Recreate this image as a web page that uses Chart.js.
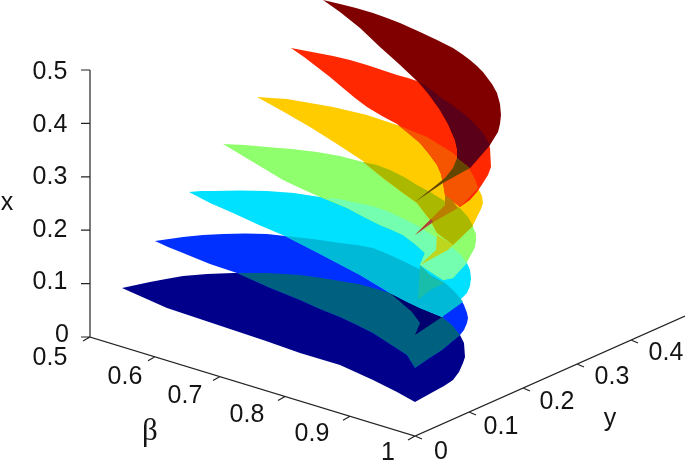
<!DOCTYPE html>
<html>
<head>
<meta charset="utf-8">
<style>
  html, body { margin: 0; padding: 0; background: #fff; }
</style>
<script src="https://cdn.jsdelivr.net/npm/chart.js@4"></script>
</head>
<body>
<canvas id="sheetChart" width="685" height="468"></canvas>
<script>
/*TICKS*/
const xTicks = [0, 0.1, 0.2, 0.3, 0.4, 0.5];
const betaTicks = [0.5, 0.6, 0.7, 0.8, 0.9, 1];
const yTicks = [0, 0.1, 0.2, 0.3, 0.4];

/*SHEET OUTLINES in the flat plane of the 3D view*/
const navySheet = [[122,288],[136,285],[150,282],[166,279],[183,276],[207,274],[233,273],[266,273],[300,275],[322,278],[340,281],[358,284],[373,288],[390,293],[442,317],[452,325],[460,335],[464,343],[465,350],[465,357],[463,363],[459,372],[453,380],[444,386],[433,392],[424,397],[415,402],[406,397],[397,392],[385,386],[373,380],[340,365],[300,353],[266,341],[233,330],[200,319],[167,308]];
const blueSheet = [[155,241],[169,239],[183,237],[203,235],[223,234],[245,233.5],[267,234],[285,236],[313,239],[340,243],[357,245],[373,248],[390,255],[407,263],[427,273],[445,283],[454,291],[460,298],[464,305],[467,313],[468,318],[467,323],[464,330],[460,335],[442,350],[428,359],[415,368],[407,355],[390,344],[373,333],[357,325],[340,317],[320,309],[300,300],[268,287],[237,273],[210,264],[183,253],[168,247]];
const cyanSheet = [[189,192],[201,191],[213,191],[240,190.5],[267,191],[294,193],[320,197],[339,199],[357,203],[372,206],[387,211],[404,219],[420,227],[437,238],[453,248],[461,255],[467,263],[470,270],[471,278],[470,286],[467,293],[460,300],[442,317],[420,308],[390,293],[375,284],[360,275],[322,255],[285,236],[259,225],[233,213],[210,203]];
const greenSheet = [[223,144],[245,145],[267,147],[292,149],[317,152],[340,156],[363,162],[377,165],[390,170],[404,177],[417,185],[430,192],[443,200],[452,204],[460,209],[468,217],[473,227],[476,234],[476,240],[475,247],[472,253],[467,262],[453,278],[443,280],[420,265],[425,253],[415,244],[403,235],[392,230],[380,225],[364,217],[347,208],[320,197],[302,189],[283,180],[253,162]];
const yellowSheet = [[257,97],[272,98],[287,99],[310,103],[333,107],[350,111],[367,115],[382,120],[397,125],[412,131],[427,137],[440,145],[453,153],[462,161],[470,170],[475,179],[478,188],[482,196],[483,203],[481,209],[478,215],[473,225],[453,245],[437,233],[430,220],[417,203],[403,193],[383,178],[363,161],[337,144],[310,127],[284,112]];
const redSheet = [[291,48],[312,52],[333,56],[350,60],[367,65],[382,70],[397,75],[408,78],[420,82],[430,89],[440,97],[452,105],[463,113],[474,123],[483,133],[487,140],[490,148],[491,157],[491,167],[488,175],[483,183],[477,192],[470,200],[460,207],[445,195],[443,183],[441,174],[437,165],[429,154],[420,143],[408,133],[397,124],[382,116],[367,107],[355,98],[343,88],[330,77],[317,67],[304,57]];
const maroonSheet = [[323,0],[340,4],[356,8],[373,13],[387,18],[400,23],[420,32],[437,40],[453,48],[462,54],[470,60],[477,66],[483,72],[492,84],[497,93],[500,104],[501,115],[500,124],[498,132],[490,145],[470,168],[457,158],[457,149],[455,140],[448,124],[440,110],[430,96],[418,82],[399,64],[380,47],[360,28],[340,12]];

/*OVERLAPS BETWEEN NEIGHBOUR SHEETS*/
const navyBlueOverlap = [[237,273],[268,273],[300,275],[322,278],[340,281],[358,284],[373,288],[390,293],[407,302],[420,308],[442,317],[452,325],[460,335],[442,350],[428,359],[415,368],[407,355],[390,344],[373,333],[357,325],[340,317],[320,309],[300,300],[268,287]];
const navyWedge = [[390,293],[407,302],[420,308],[442,317],[430,325],[415,335],[420,323],[412,312]];
const blueCyanOverlap = [[285,236],[313,239],[340,243],[357,245],[373,248],[390,255],[407,263],[427,273],[445,283],[454,291],[460,298],[463,302],[442,317],[420,308],[407,302],[390,293],[382,288],[360,275],[322,255]];
const cyanGreenOverlap = [[326,198],[339,199],[357,203],[372,206],[387,211],[404,219],[420,227],[437,238],[453,248],[461,255],[467,263],[453,278],[443,280],[420,265],[425,253],[415,244],[403,235],[392,230],[380,225],[364,217],[347,208]];
const cyanFold = [[420,265],[427,272],[433,278],[445,283],[430,290],[418,300]];
const greenYellowOverlap = [[363,162],[377,165],[390,170],[404,177],[417,185],[430,192],[443,200],[447,203],[460,208],[468,217],[473,226],[453,245],[437,233],[430,220],[417,203],[403,193],[383,178]];
const greenFold = [[420,265],[436,250],[437,235],[453,245],[448,250]];
const yellowRedOverlap = [[398,125],[412,131],[427,137],[440,145],[453,153],[462,161],[470,170],[475,179],[478,188],[460,207],[452,200],[445,195],[443,183],[441,174],[437,165],[429,154],[420,143],[408,133]];
const redFold = [[415,235],[430,224],[458,208],[452,200],[445,195],[445,205],[432,218]];
const redFoldTip = [[415,235],[433,222],[431,219]];
const redMaroonOverlap = [[420,82],[430,89],[440,97],[452,105],[463,113],[474,123],[483,133],[490,145],[470,168],[457,158],[457,149],[455,140],[448,124],[440,110],[430,96]];
const maroonFold = [[457,158],[470,168],[443,183],[415,202],[445,178],[453,168]];

/*drawn in this order, first one at the bottom*/
const sheetLayers = [
    [navySheet, 'rgb(0, 0, 139)'],
    [blueSheet, 'rgb(0, 48, 255)'],
    [navyBlueOverlap, 'rgb(0, 96, 128)'],
    [navyWedge, 'rgb(0, 0, 110)'],
    [cyanSheet, 'rgb(0, 225, 255)'],
    [blueCyanOverlap, 'rgb(0, 185, 215)'],
    [greenSheet, 'rgb(143, 255, 110)'],
    [cyanGreenOverlap, 'rgb(115, 255, 175)'],
    [cyanFold, 'rgb(25, 190, 170)'],
    [yellowSheet, 'rgb(255, 204, 0)'],
    [greenYellowOverlap, 'rgb(170, 185, 0)'],
    [greenFold, 'rgb(190, 215, 30)'],
    [redSheet, 'rgb(255, 40, 0)'],
    [yellowRedOverlap, 'rgb(245, 85, 0)'],
    [redFold, 'rgb(185, 125, 0)'],
    [redFoldTip, 'rgb(175, 65, 60)'],
    [maroonSheet, 'rgb(128, 0, 0)'],
    [redMaroonOverlap, 'rgb(90, 0, 25)'],
    [maroonFold, 'rgb(100, 70, 0)']
];

/*axis values into the flat plane of the view*/
function project(beta, y, x) {
    return {
        x: 90 + 650 * (beta - 0.5) + 540 * y,
        y: 337 + 198 * (beta - 0.5) - 240 * y - 534 * x
    };
}

const gap = {x: NaN, y: NaN};
let axisPoints = [project(0.5, 0, 0.5), project(0.5, 0, 0), project(1, 0, 0), project(1, 0, 0)];
axisPoints.push(project(1, 0.5, 0), gap);
xTicks.forEach(function (t) {
    let p = project(0.5, 0, t);
    axisPoints.push(p, {x: p.x - 9, y: p.y}, gap);
});
betaTicks.forEach(function (t) {
    let p = project(t, 0, 0);
    axisPoints.push(p, {x: p.x - 7, y: p.y + 4}, gap);
});
yTicks.forEach(function (t) {
    let p = project(1, t, 0);
    axisPoints.push(p, {x: p.x + 7, y: p.y + 3}, gap);
});

let datasets = sheetLayers.map(function (layer, i) {
    return {
        label: 'sheet ' + i,
        data: layer[0].map(function (p) { return {x: p[0], y: p[1]}; }),
        showLine: true,
        fill: 'shape',
        backgroundColor: layer[1],
        borderWidth: 0,
        pointRadius: 0,
        tension: 0,
        order: sheetLayers.length - i + 1
    };
});
datasets.push({
    label: 'axes',
    data: axisPoints,
    showLine: true,
    fill: false,
    borderColor: 'rgb(35, 35, 35)',
    borderWidth: 1.2,
    pointRadius: 0,
    tension: 0,
    order: 0
});

/*tick labels: [text, plane x, plane y]*/
const xLabels = [['0', 62, 335], ['0.1', 50, 282], ['0.2', 50, 230], ['0.3', 50, 177], ['0.4', 50, 125], ['0.5', 50, 72]];
const betaLabels = [['0.5', 50, 358], ['0.6', 125, 377], ['0.7', 185, 396], ['0.8', 247, 415], ['0.9', 312, 434], ['1', 388, 453]];
const yLabels = [['0', 441, 452], ['0.1', 501, 427], ['0.2', 557, 402], ['0.3', 612, 377], ['0.4', 666, 353]];
const axisNames = [['x', 7, 203, 'sans'], ['y', 610, 419, 'sans'], ['β', 150, 432, 'serif']];

const labelPlugin = {
    id: 'axisLabels',
    afterDraw: function (chart) {
        const ctx = chart.ctx;
        const sx = chart.scales.x;
        const sy = chart.scales.y;
        ctx.save();
        ctx.fillStyle = 'rgb(20, 20, 20)';
        ctx.textAlign = 'center';
        ctx.textBaseline = 'middle';
        ctx.font = '25px "Liberation Sans"';
        xLabels.concat(betaLabels, yLabels).forEach(function (l) {
            ctx.fillText(l[0], sx.getPixelForValue(l[1]), sy.getPixelForValue(l[2]));
        });
        axisNames.forEach(function (l) {
            ctx.font = l[3] === 'serif' ? '31px "Liberation Serif"' : '25px "Liberation Sans"';
            ctx.fillText(l[0], sx.getPixelForValue(l[1]), sy.getPixelForValue(l[2]));
        });
        ctx.restore();
    }
};

let sheetChart = new Chart(document.getElementById('sheetChart').getContext('2d'), {
    type: 'scatter',
    data: {datasets: datasets},
    plugins: [labelPlugin],
    options: {
        responsive: false,
        animation: false,
        layout: {padding: 0},
        plugins: {legend: {display: false}, tooltip: {enabled: false}},
        scales: {
            x: {type: 'linear', min: 0, max: 685, display: false},
            y: {type: 'linear', min: 0, max: 468, reverse: true, display: false}
        }
    }
});
</script>
</body>
</html>
